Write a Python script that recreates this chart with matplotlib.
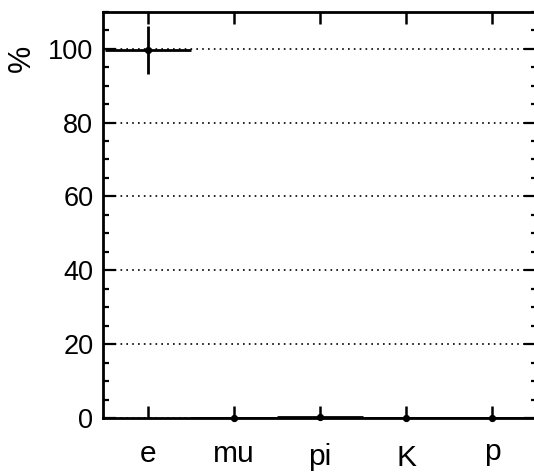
import numpy as np
import matplotlib.pyplot as plt
from matplotlib.ticker import MultipleLocator
from matplotlib.transforms import ScaledTranslation

plt.rcParams['font.family'] = ['Liberation Sans', 'DejaVu Sans']

particles = ['e', 'mu', 'pi', 'K', 'p']
fraction = [99.6, 0.0, 0.4, 0.0, 0.0]
frac_err = [6.4, 0.0, 0.0, 0.0, 0.0]
bin_halfwidth = [0.5, 0.5, 0.5, 0.5, 0.5]

fig = plt.figure(figsize=(5.34, 4.72), dpi=100)
ax = fig.add_axes([0.193, 0.1144, 0.8126, 0.8608])

x = np.arange(len(particles))
eb = ax.errorbar(x, fraction, yerr=frac_err, xerr=bin_halfwidth, fmt='o', color='black',
                 ms=4.2, elinewidth=2.0, capsize=0, zorder=3)
eb[0].set_clip_on(False)
eb[0].set_zorder(4)

ax.set_xlim(-0.523, 4.523)
ax.set_ylim(0, 110)

ax.yaxis.set_major_locator(MultipleLocator(20))
ax.yaxis.set_minor_locator(MultipleLocator(5))
ax.set_xticks(x)
ax.set_xticklabels(particles)

ax.grid(axis='y', which='major', color='black', linestyle=(0, (1, 2.5)), linewidth=1.2)

for s in ax.spines.values():
    s.set_linewidth(2.0)

ax.tick_params(axis='y', which='major', direction='in', length=9.5, width=1.6,
               right=True, labelsize=19.5, pad=7)
ax.tick_params(axis='y', which='minor', direction='in', length=4.5, width=1.6, right=True)
ax.tick_params(axis='x', which='major', direction='in', length=8.5, width=1.8,
               top=True, labelsize=21.5, pad=31.5)
ax.tick_params(axis='x', which='minor', bottom=False, top=False)

# x labels sit on slightly different baselines in the original
shifts = [0, 0, -3, -4, 2]
for lab, dy in zip(ax.get_xticklabels(), shifts):
    lab.set_verticalalignment('baseline')
    lab.set_transform(lab.get_transform() + ScaledTranslation(0, dy / 100, fig.dpi_scale_trans))

ax.set_ylabel('%', fontsize=22, ha='center', va='center')
ax.yaxis.set_label_coords(-0.188, 0.884)

fig.savefig('out.png', dpi=100)
